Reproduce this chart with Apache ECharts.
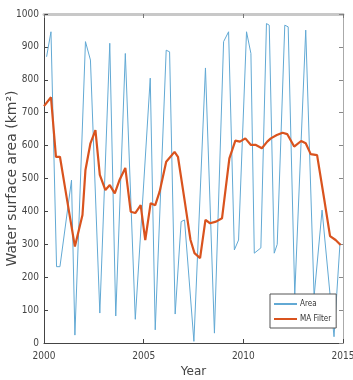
<!DOCTYPE html>
<html>
<head>
<meta charset="utf-8">
<script src="https://cdn.jsdelivr.net/npm/echarts@6/dist/echarts.min.js"></script>
<style>
  html, body { margin: 0; padding: 0; background: #fff; }
  #chart { width: 353px; height: 380px; }
</style>
</head>
<body>
<div id="chart"></div>
<script>
// Area samples (decimal year, km2)
var areaYears = [2000.13, 2000.35, 2000.63, 2000.8, 2001.38, 2001.55, 2002.08, 2002.33, 2002.8, 2003.3,
  2003.6, 2004.08, 2004.58, 2005.33, 2005.58, 2006.13, 2006.3, 2006.58, 2006.88, 2007.05,
  2007.52, 2008.1, 2008.55, 2009.01, 2009.26, 2009.55, 2009.76, 2010.16, 2010.38, 2010.55,
  2010.88, 2011.16, 2011.3, 2011.55, 2011.7, 2012.08, 2012.25, 2012.58, 2013.13, 2013.55,
  2013.95, 2014.55, 2014.85]
var areaValues = [870, 946, 232, 232, 495, 24, 916, 860, 91, 911,
  82, 880, 72, 805, 40, 890, 885, 88, 369, 374,
  5, 836, 30, 916, 946, 283, 313, 946, 880, 273,
  289, 971, 966, 273, 300, 966, 961, 146, 951, 141,
  404, 19, 304]

// moving average filter
var maYears = [2000.0, 2000.35, 2000.6, 2000.8, 2001.13, 2001.55, 2001.93, 2002.08, 2002.33, 2002.58,
  2002.8, 2003.08, 2003.3, 2003.55, 2003.8, 2004.08, 2004.35, 2004.58, 2004.85, 2005.08,
  2005.35, 2005.58, 2005.8, 2006.13, 2006.55, 2006.72, 2007.05, 2007.35, 2007.55, 2007.83,
  2008.1, 2008.33, 2008.63, 2008.93, 2009.3, 2009.6, 2009.83, 2010.1, 2010.38, 2010.63,
  2010.93, 2011.2, 2011.38, 2011.68, 2011.97, 2012.2, 2012.55, 2012.9, 2013.13, 2013.38,
  2013.7, 2014.05, 2014.35, 2014.63, 2014.88]
var maValues = [720, 747, 566, 566, 445, 293, 389, 526, 607, 647,
  511, 465, 480, 455, 497, 532, 399, 395, 419, 313,
  425, 419, 460, 551, 581, 566, 435, 313, 273, 258,
  374, 364, 369, 379, 561, 615, 612, 622, 602, 602,
  592, 612, 622, 632, 639, 635, 597, 614, 607, 574,
  571, 440, 325, 313, 298]

var yearTicks = [2000, 2005, 2010, 2015]

function pairs(xs, ys){
  var out = []
  for(var i=0; i<xs.length; i++){
    out.push([xs[i], ys[i]])
  }
  return out
}

var chart = echarts.init(document.getElementById('chart'))

var labelStyle = { color: '#444', fontSize: 10, fontFamily: 'DejaVu Sans Condensed' }
var plain = function(v){ return String(v) }

var option = {
  animation: false,
  grid: { left: 44, right: 10, top: 14, bottom: 37, containLabel: false, outerBoundsMode: 'none' },
  legend: {
    orient: 'vertical',
    left: 270,
    top: 294,
    padding: [6, 5, 5, 4],
    itemGap: 7,
    itemWidth: 23,
    itemHeight: 2,
    backgroundColor: '#fff',
    borderColor: '#555',
    borderWidth: 1,
    borderRadius: 0,
    textStyle: { color: '#333', fontSize: 8, fontFamily: 'DejaVu Sans Condensed', padding: [0, 0, 0, -2] },
    data: [
      { name: 'Area', icon: 'rect', itemStyle: { color: '#62a9d4' } },
      { name: 'MA Filter', icon: 'rect', itemStyle: { color: '#d9531e' } }
    ]
  },
  xAxis: [{
    type: 'value',
    min: yearTicks[0],
    max: yearTicks[yearTicks.length-1],
    interval: 5,
    name: 'Year',
    nameLocation: 'middle',
    nameGap: 23,
    nameMoveOverlap: false,
    nameTextStyle: { color: '#444', fontSize: 12, fontFamily: 'DejaVu Sans' },
    axisLine: { onZero: false, lineStyle: { color: '#444', width: 1 } },
    axisTick: { inside: true, length: 4, lineStyle: { color: '#444' } },
    axisLabel: { formatter: plain, margin: 8, textStyle: labelStyle },
    splitLine: { show: false }
  }, {
    type: 'value',
    position: 'top',
    min: yearTicks[0],
    max: yearTicks[yearTicks.length-1],
    interval: 5,
    axisLine: { onZero: false, lineStyle: { color: '#c8c8c8', width: 3 } },
    axisTick: { inside: true, length: 4, lineStyle: { color: '#777' } },
    axisLabel: { show: false },
    splitLine: { show: false }
  }],
  yAxis: [{
    type: 'value',
    min: 0,
    max: 1000,
    interval: 100,
    name: 'Water surface area (km\u00b2)',
    nameLocation: 'middle',
    nameGap: 25,
    nameMoveOverlap: false,
    nameTextStyle: { color: '#444', fontSize: 14, fontFamily: 'DejaVu Sans' },
    axisLine: { show: true, onZero: false, lineStyle: { color: '#444', width: 1 } },
    axisTick: { show: true, inside: true, length: 4, lineStyle: { color: '#444' } },
    axisLabel: { formatter: plain, margin: 5, textStyle: labelStyle },
    splitLine: { show: false }
  }, {
    type: 'value',
    position: 'right',
    min: 0,
    max: 1000,
    interval: 100,
    axisLine: { show: true, onZero: false, lineStyle: { color: '#aaa', width: 1 } },
    axisTick: { show: true, inside: true, length: 4, lineStyle: { color: '#888' } },
    axisLabel: { show: false },
    splitLine: { show: false }
  }],
  series: [{
    name: 'Area',
    type: 'line',
    symbol: 'none',
    data: pairs(areaYears, areaValues),
    lineStyle: { color: '#62a9d4', width: 1 },
    itemStyle: { color: '#62a9d4' }
  }, {
    name: 'MA Filter',
    type: 'line',
    symbol: 'none',
    data: pairs(maYears, maValues),
    lineStyle: { color: '#d9531e', width: 2.2 },
    itemStyle: { color: '#d9531e' }
  }]
}

chart.setOption(option)
</script>
</body>
</html>
